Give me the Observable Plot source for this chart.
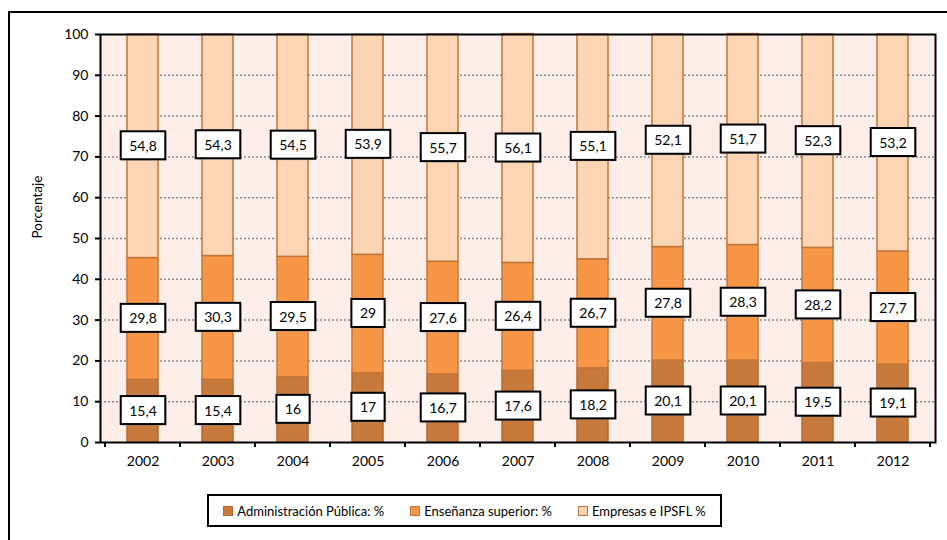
<!DOCTYPE html>
<html>
<head>
<meta charset="utf-8">
<script src="https://cdn.jsdelivr.net/npm/d3@7"></script>
<script src="https://cdn.jsdelivr.net/npm/@observablehq/plot@0.6"></script>
<style>
  html, body { margin:0; padding:0; background:#fff; overflow:hidden; }
  #wrap { position:relative; width:947px; height:540px; font-family:Lato, "Open Sans", sans-serif; }
  #outer { position:absolute; left:8px; top:11px; width:1000px; height:600px; border:2px solid #000; box-sizing:border-box; }
  #chart { position:absolute; left:0; top:0; }
  #legend { position:absolute; left:207px; top:494px; width:515px; height:33px; border:2px solid #000; box-sizing:border-box; background:#fff;
            display:flex; align-items:center; justify-content:center; font-size:13px; color:#000; gap:26px; }
  .item { display:flex; align-items:center; gap:4px; white-space:nowrap; }
  .sw { width:8px; height:8px; border:1px solid; display:inline-block; }
</style>
</head>
<body>
<div id="wrap">
  <div id="outer"></div>
  <div id="chart"></div>
  <div id="legend"></div>
</div>
<script>
const years = ["2002","2003","2004","2005","2006","2007","2008","2009","2010","2011","2012"];
const seriesNames = ["Administración Pública: %", "Enseñanza superior: %", "Empresas e IPSFL %"];
const administracion = [15.4, 15.4, 16, 17, 16.7, 17.6, 18.2, 20.1, 20.1, 19.5, 19.1];
const ensenanza = [29.8, 30.3, 29.5, 29, 27.6, 26.4, 26.7, 27.8, 28.3, 28.2, 27.7];
const empresas = [54.8, 54.3, 54.5, 53.9, 55.7, 56.1, 55.1, 52.1, 51.7, 52.3, 53.2];
const colors = ["#C87A3C", "#F79646", "#FCD5B5"];
const strokeColors = ["#B86A30", "#C8783A", "#C0763A"];
const yTicks = [0, 10, 20, 30, 40, 50, 60, 70, 80, 90, 100];
const gridValues = [10, 20, 30, 40, 50, 60, 70, 80, 90];

const seriesValues = [administracion, ensenanza, empresas];
const data = [];
seriesNames.forEach((s, i) => years.forEach((y, j) => data.push({year: y, series: s, value: seriesValues[i][j]})));
const fmt = v => String(v).replace(".", ",");

const chart = Plot.plot({
  width: 947, height: 480,
  marginLeft: 100, marginRight: 12, marginTop: 34, marginBottom: 38,
  style: {fontFamily: "Lato, 'Open Sans', sans-serif", fontSize: "14px", color: "#000", background: "transparent", overflow: "visible"},
  x: {type: "band", domain: years, paddingInner: 0.59, paddingOuter: 0.295, label: null},
  y: {domain: [0, 100], label: null},
  color: {domain: seriesNames, range: colors},
  marks: [
    Plot.frame({fill: "#FDEEE9"}),
    Plot.ruleY(gridValues, {stroke: "#8c8c8c", strokeDasharray: "2,2", strokeWidth: 1.5}),
    Plot.barY(data, {x: "year", y: "value", z: "series", fill: "series",
      stroke: d => strokeColors[seriesNames.indexOf(d.series)], strokeWidth: 1.5}),
    Plot.text(data, Plot.stackY({x: "year", y: "value", z: "series", text: d => fmt(d.value), fill: "#000", fontSize: 14})),
    Plot.axisY({ticks: yTicks, tickSize: 5, tickPadding: 7, tickFormat: d => String(d), label: null, strokeWidth: 2}),
    Plot.axisX({tickSize: 0, tickPadding: 14, label: null}),
    Plot.frame({stroke: "#000", strokeWidth: 2}),
    Plot.text(["Porcentaje"], {frameAnchor: "left", rotate: -90, dx: -63, fontSize: 13.5, fill: "#000"})
  ]
});
document.getElementById("chart").appendChild(chart);

// label boxes behind value texts
const NS = "http://www.w3.org/2000/svg";
const labelSet = new Set(data.map(d => fmt(d.value)));
const textGroups = Array.from(chart.querySelectorAll("g")).filter(g => g.getAttribute("aria-label") === "text");
const labelGroup = textGroups[0];
Array.from(labelGroup ? labelGroup.querySelectorAll("text") : []).forEach(function(t) {
  if (!labelSet.has(t.textContent)) return;
  const b = t.getBBox();
  const padX = 8.5, padY = 5.5;
  const tr = t.getAttribute("transform");
  const sh = document.createElementNS(NS, "rect");
  sh.setAttribute("x", b.x - padX + 1.5); sh.setAttribute("y", b.y - padY + 1.5);
  sh.setAttribute("width", b.width + 2 * padX); sh.setAttribute("height", b.height + 2 * padY);
  sh.setAttribute("fill", "#a0a0a0"); sh.setAttribute("fill-opacity", "0.5");
  const r = document.createElementNS(NS, "rect");
  r.setAttribute("x", b.x - padX); r.setAttribute("y", b.y - padY);
  r.setAttribute("width", b.width + 2 * padX); r.setAttribute("height", b.height + 2 * padY);
  r.setAttribute("fill", "#fff"); r.setAttribute("stroke", "#000"); r.setAttribute("stroke-width", "2");
  if (tr) { sh.setAttribute("transform", tr); r.setAttribute("transform", tr); }
  t.parentNode.insertBefore(sh, t);
  t.parentNode.insertBefore(r, t);
});

// x tick marks at band boundaries
const xs = chart.scale("x"), ys = chart.scale("y");
const gap = (xs.step - xs.bandwidth) / 2;
const bounds = years.map(y => xs.apply(y) - gap);
bounds.push(xs.apply(years[years.length - 1]) + xs.bandwidth + gap);
const y0 = ys.apply(0);
const tg = d3.select(chart).append("g").attr("stroke", "#000").attr("stroke-width", 2);
bounds.forEach(bx => tg.append("line").attr("x1", bx).attr("x2", bx).attr("y1", y0).attr("y2", y0 + 5));

// legend
const lg = document.getElementById("legend");
seriesNames.forEach((s, i) => {
  const it = document.createElement("div"); it.className = "item";
  const sw = document.createElement("span"); sw.className = "sw";
  sw.style.background = colors[i]; sw.style.borderColor = strokeColors[i];
  const t = document.createElement("span"); t.textContent = s;
  it.appendChild(sw); it.appendChild(t); lg.appendChild(it);
});
</script>
</body>
</html>
